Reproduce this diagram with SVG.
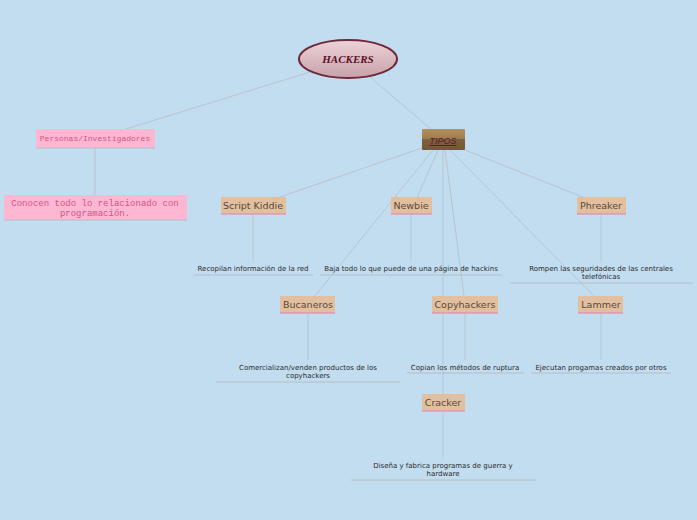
<svg xmlns="http://www.w3.org/2000/svg" width="697" height="520" viewBox="0 0 697 520">
<defs>
<linearGradient id="eg" x1="0" y1="0" x2="0" y2="1"><stop offset="0" stop-color="#ecd3d8"/><stop offset="1" stop-color="#c9a1a9"/></linearGradient>
<linearGradient id="tg" x1="0" y1="0" x2="0" y2="1"><stop offset="0" stop-color="#b4905e"/><stop offset="0.5" stop-color="#9e7a4c"/><stop offset="0.5" stop-color="#7f6040"/><stop offset="1" stop-color="#735739"/></linearGradient>
</defs>
<style>
.c{stroke:#b9c4cc;stroke-width:1;fill:none}
.t{fill:#e2bf9f}
.tl{font-family:Verdana,"DejaVu Sans",sans-serif;font-size:9.5px;fill:#5a4a3a;text-anchor:middle}
.u{stroke:#e57fb0;stroke-width:1}
.d{font-family:Verdana,"DejaVu Sans",sans-serif;font-size:7px;fill:#2b2b2b;text-anchor:middle}
.dl{stroke:#b4bec6;stroke-width:1}
.m{font-family:"Liberation Mono",monospace;text-anchor:middle;fill:#d4547f}
</style>
<rect width="697" height="520" fill="#c3ddf0"/>
<g id="connectors">
<line class="c" x1="310" y1="72" x2="126" y2="129"/>
<line class="c" x1="370" y1="77" x2="432" y2="130"/>
<line class="c" x1="95" y1="148" x2="95" y2="196"/>
<line class="c" x1="422" y1="148" x2="277" y2="198"/>
<line class="c" x1="438" y1="150" x2="417" y2="198"/>
<line class="c" x1="433" y1="150" x2="315" y2="296"/>
<line class="c" x1="443" y1="150" x2="443" y2="394"/>
<line class="c" x1="445" y1="150" x2="464" y2="296"/>
<line class="c" x1="450" y1="150" x2="594" y2="296"/>
<line class="c" x1="460" y1="148" x2="585" y2="198"/>
<line class="c" x1="253" y1="214" x2="253" y2="261"/>
<line class="c" x1="411" y1="214" x2="411" y2="261"/>
<line class="c" x1="601" y1="214" x2="601" y2="261"/>
<line class="c" x1="308" y1="313" x2="308" y2="360"/>
<line class="c" x1="465" y1="313" x2="465" y2="360"/>
<line class="c" x1="601" y1="313" x2="601" y2="360"/>
<line class="c" x1="443" y1="412" x2="443" y2="459"/>
</g>
<g id="hackers">
<ellipse cx="348" cy="59" rx="49" ry="19" fill="url(#eg)" stroke="#6e2a3a" stroke-width="2"/>
<text x="348" y="63" font-family="Liberation Serif,serif" font-size="11" font-weight="bold" font-style="italic" fill="#5a1028" text-anchor="middle">HACKERS</text>
</g>
<g id="personas">
<rect x="36" y="129" width="119" height="19" fill="#fdb7d3"/>
<line x1="36" y1="148" x2="155" y2="148" class="dl"/>
<text x="95" y="141" class="m" font-size="8">Personas/Investigadores</text>
</g>
<g id="conocen">
<rect x="4" y="195" width="183" height="25" fill="#fdb7d3"/>
<line x1="4" y1="220" x2="187" y2="220" class="dl"/>
<text x="95" y="206" class="m" font-size="9">Conocen todo lo relacionado con</text>
<text x="95" y="216" class="m" font-size="9">programación.</text>
</g>
<g id="tipos">
<rect x="422" y="129" width="43" height="21" fill="url(#tg)" rx="1"/>
<text x="443" y="144" font-family="Verdana,sans-serif" font-size="9" font-style="italic" fill="#5a1a28" text-anchor="middle" text-decoration="underline">TIPOS</text>
</g>
<g id="script"><rect class="t" x="221" y="197" width="65" height="17"/><line class="u" x1="221" y1="214" x2="286" y2="214"/><text class="tl" x="253" y="209">Script Kiddie</text></g>
<g id="newbie"><rect class="t" x="391" y="197" width="41" height="17"/><line class="u" x1="391" y1="214" x2="432" y2="214"/><text class="tl" x="411" y="209">Newbie</text></g>
<g id="phreaker"><rect class="t" x="577" y="197" width="49" height="17"/><line class="u" x1="577" y1="214" x2="626" y2="214"/><text class="tl" x="601" y="209">Phreaker</text></g>
<g id="bucaneros"><rect class="t" x="280" y="296" width="55" height="17"/><line class="u" x1="280" y1="313" x2="335" y2="313"/><text class="tl" x="308" y="308">Bucaneros</text></g>
<g id="copyhackers"><rect class="t" x="432" y="296" width="66" height="17"/><line class="u" x1="432" y1="313" x2="498" y2="313"/><text class="tl" x="465" y="308">Copyhackers</text></g>
<g id="lammer"><rect class="t" x="578" y="296" width="45" height="17"/><line class="u" x1="578" y1="313" x2="623" y2="313"/><text class="tl" x="601" y="308">Lammer</text></g>
<g id="cracker"><rect class="t" x="422" y="394" width="43" height="17"/><line class="u" x1="422" y1="411" x2="465" y2="411"/><text class="tl" x="443" y="406">Cracker</text></g>
<g id="d1"><text class="d" x="253" y="271">Recopilan información de la red</text><line class="dl" x1="194" y1="275" x2="313" y2="275"/></g>
<g id="d2"><text class="d" x="411" y="271">Baja todo lo que puede de una página de hackins</text><line class="dl" x1="320" y1="275" x2="502" y2="275"/></g>
<g id="d3"><text class="d" x="601" y="271">Rompen las seguridades de las centrales</text><text class="d" x="601" y="279">telefónicas</text><line class="dl" x1="510" y1="283" x2="693" y2="283"/></g>
<g id="d4"><text class="d" x="308" y="370">Comercializan/venden productos de los</text><text class="d" x="308" y="378">copyhackers</text><line class="dl" x1="216" y1="382" x2="400" y2="382"/></g>
<g id="d5"><text class="d" x="465" y="370">Copian los métodos de ruptura</text><line class="dl" x1="407" y1="373" x2="524" y2="373"/></g>
<g id="d6"><text class="d" x="601" y="370">Ejecutan progamas creados por otros</text><line class="dl" x1="531" y1="373" x2="671" y2="373"/></g>
<g id="d7"><text class="d" x="443" y="468">Diseña y fabrica programas de guerra y</text><text class="d" x="443" y="476">hardware</text><line class="dl" x1="351" y1="480" x2="536" y2="480"/></g>
</svg>
